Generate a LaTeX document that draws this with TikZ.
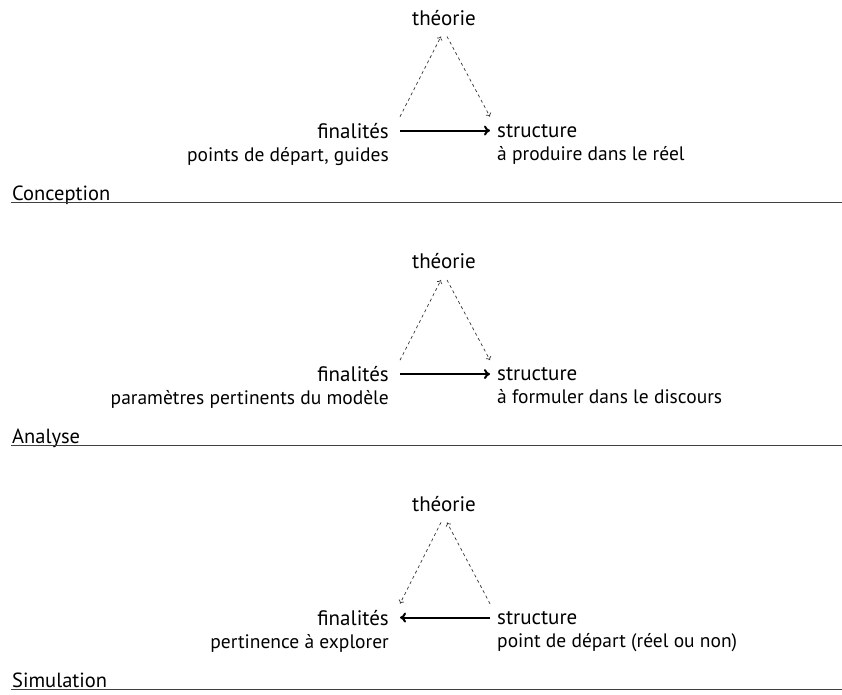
\documentclass[tikz,border=0pt]{standalone}
\usepackage{fontspec}
\setmainfont{PT Sans}
\usetikzlibrary{arrows.meta}

\begin{document}
\begin{tikzpicture}[x=1pt,y=-1pt,
    lbl/.style={inner sep=0pt,font=\fontsize{21}{25}\selectfont},
    sub/.style={inner sep=0pt,font=\fontsize{19.5}{23}\selectfont},
    sect/.style={inner sep=0pt,font=\fontsize{20.5}{24}\selectfont},
    pas/.style={-{To[length=6pt,width=10pt]},line width=2pt},
    lien/.style={-{To[length=3.5pt,width=6pt]},dash pattern=on 3pt off 3pt,line width=0.7pt,black!80},
    trait/.style={line width=0.9pt,black!75}]
  \useasboundingbox (0,0) rectangle (842,694);
  % Conception
  \node[lbl,anchor=base] (th1) at (444,25) {théorie};
  \node[lbl,anchor=base east] (fin1) at (389,138) {finalités};
  \node[sub,anchor=base east] (fin1s) at (389,161) {points de départ, guides};
  \node[lbl,anchor=base west] (str1) at (497,137) {structure};
  \node[sub,anchor=base west] (str1s) at (497,160) {à produire dans le réel};
  \node[sect,anchor=base west] (lab1) at (12,200) {Conception};
  \draw[pas,shorten <=11pt,shorten >=7pt] (fin1.east) -- (str1.west |- fin1.east);
  \draw[lien] ([shift={(11,-6)}]fin1.north east) -- ([shift={(-3,11)}]th1.south);
  \draw[lien] ([shift={(3,11)}]th1.south) -- ([shift={(-7,-7)}]str1.north west);
  \draw[trait] ([shift={(-1,2.7)}]lab1.base west) -- ++(832,0);
  % Analyse
  \node[lbl,anchor=base] (th2) at (444,268.5) {théorie};
  \node[lbl,anchor=base east] (fin2) at (389,381.5) {finalités};
  \node[sub,anchor=base east] (fin2s) at (389,404.5) {paramètres pertinents du modèle};
  \node[lbl,anchor=base west] (str2) at (497,380.5) {structure};
  \node[sub,anchor=base west] (str2s) at (497,403.5) {à formuler dans le discours};
  \node[sect,anchor=base west] (lab2) at (12,443) {Analyse};
  \draw[pas,shorten <=11pt,shorten >=7pt] (fin2.east) -- (str2.west |- fin2.east);
  \draw[lien] ([shift={(11,-6)}]fin2.north east) -- ([shift={(-3,11)}]th2.south);
  \draw[lien] ([shift={(3,11)}]th2.south) -- ([shift={(-7,-7)}]str2.north west);
  \draw[trait] ([shift={(-1,2.3)}]lab2.base west) -- ++(832,0);
  % Simulation
  \node[lbl,anchor=base] (th3) at (444,511) {théorie};
  \node[lbl,anchor=base east] (fin3) at (389,625) {finalités};
  \node[sub,anchor=base east] (fin3s) at (389,648) {pertinence à explorer};
  \node[lbl,anchor=base west] (str3) at (497,624) {structure};
  \node[sub,anchor=base west] (str3s) at (497,647) {point de départ (réel ou non)};
  \node[sect,anchor=base west] (lab3) at (12,687) {Simulation};
  \draw[pas,shorten <=7pt,shorten >=11pt] (str3.west |- fin3.east) -- (fin3.east);
  \draw[lien] ([shift={(-7,-7)}]str3.north west) -- ([shift={(3,11)}]th3.south);
  \draw[lien] ([shift={(-3,11)}]th3.south) -- ([shift={(11,-6)}]fin3.north east);
  \draw[trait] ([shift={(-1,2.2)}]lab3.base west) -- ++(832,0);
\end{tikzpicture}
\end{document}
